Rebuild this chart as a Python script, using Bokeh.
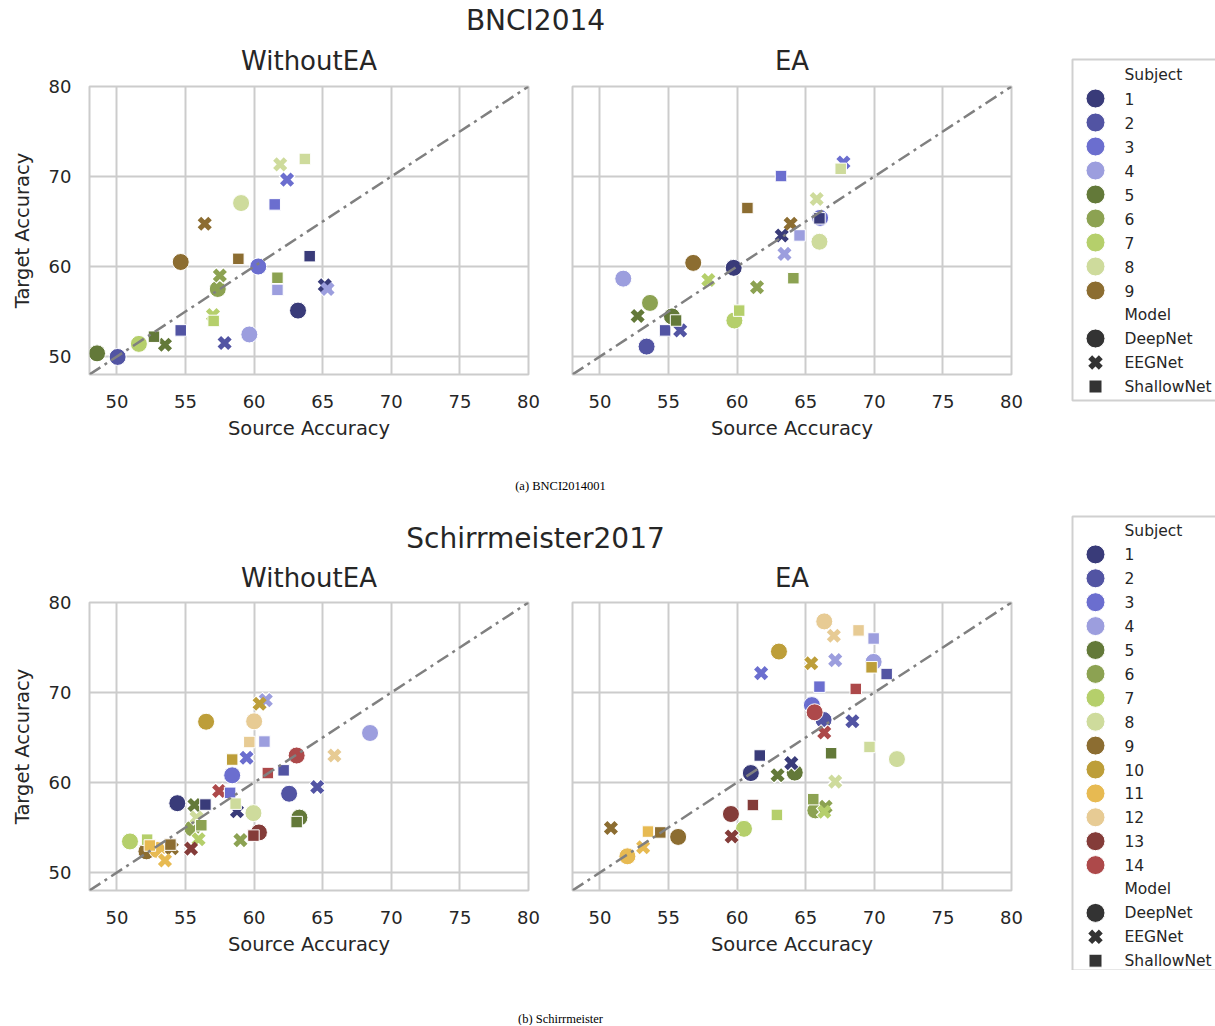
from bokeh.plotting import figure
from bokeh.layouts import row, column
from bokeh.models import ColumnDataSource, FixedTicker, Range1d, Slope
from bokeh.embed import file_html
from bokeh.resources import INLINE
from bokeh.core.properties import value

# ---------------- data ----------------
SUBJECT_COLORS = ["#393b79", "#5254a3", "#6b6ecf", "#9c9ede", "#637939", "#8ca252", "#b5cf6b",
                  "#cedb9c", "#8c6d31", "#bd9e39", "#e7ba52", "#e7cb94", "#843c39", "#ad494a"]
MODELS = ["DeepNet", "EEGNet", "ShallowNet"]
X_TICKS = [50, 55, 60, 65, 70, 75, 80]
Y_TICKS = [50, 60, 70, 80]
AXIS_LO, AXIS_HI = 48, 80

# BNCI2014 - WithoutEA (subjects 1..9)
bnci_wo_deep_src = [63.2, 50.05, 60.3, 59.65, 48.55, 57.35, 51.6, 59.05, 54.65]
bnci_wo_deep_tgt = [55.1, 49.95, 60.0, 52.45, 50.35, 57.5, 51.4, 67.05, 60.5]
bnci_wo_eeg_src = [65.15, 57.85, 62.4, 65.35, 53.5, 57.5, 57.0, 61.9, 56.4]
bnci_wo_eeg_tgt = [57.9, 51.5, 69.65, 57.5, 51.3, 59.0, 54.6, 71.35, 64.75]
bnci_wo_shal_src = [64.05, 54.65, 61.5, 61.7, 52.7, 61.7, 57.05, 63.7, 58.85]
bnci_wo_shal_tgt = [61.15, 52.9, 66.9, 57.4, 52.2, 58.75, 53.95, 71.95, 60.85]

# BNCI2014 - EA
bnci_ea_deep_src = [59.75, 53.4, 66.05, 51.7, 55.25, 53.65, 59.8, 66.0, 56.8]
bnci_ea_deep_tgt = [59.85, 51.1, 65.4, 58.65, 54.45, 55.95, 54.0, 62.75, 60.4]
bnci_ea_eeg_src = [63.25, 55.85, 67.75, 63.45, 52.75, 61.45, 57.9, 65.8, 63.9]
bnci_ea_eeg_tgt = [63.45, 52.9, 71.55, 61.4, 54.5, 57.7, 58.5, 67.5, 64.75]
bnci_ea_shal_src = [66.0, 54.75, 63.2, 64.55, 55.55, 64.1, 60.15, 67.55, 60.75]
bnci_ea_shal_tgt = [65.35, 52.9, 70.05, 63.45, 54.0, 58.7, 55.1, 70.85, 66.5]

# Schirrmeister2017 - WithoutEA (subjects 1..14)
sch_wo_deep_src = [54.4, 62.55, 58.4, 68.45, 63.3, 55.5, 50.95, 59.95, 52.15, 56.5, 52.95, 60.0, 60.35, 63.1]
sch_wo_deep_tgt = [57.7, 58.75, 60.8, 65.5, 56.1, 54.9, 53.45, 56.6, 52.35, 66.75, 52.5, 66.8, 54.45, 63.0]
sch_wo_eeg_src = [58.75, 64.6, 59.45, 60.85, 55.65, 59.0, 55.95, 55.8, 54.0, 60.4, 53.5, 65.85, 55.4, 57.45]
sch_wo_eeg_tgt = [56.8, 59.5, 62.75, 69.15, 57.5, 53.6, 53.7, 56.1, 52.7, 68.75, 51.35, 63.0, 52.65, 59.05]
sch_wo_shal_src = [56.45, 62.15, 58.25, 60.75, 63.1, 56.15, 52.2, 58.65, 53.9, 58.4, 52.4, 59.65, 59.95, 61.0]
sch_wo_shal_tgt = [57.55, 61.35, 58.85, 64.55, 55.6, 55.25, 53.65, 57.65, 53.1, 62.55, 53.0, 64.5, 54.1, 61.05]

# Schirrmeister2017 - EA
sch_ea_deep_src = [61.0, 66.3, 65.45, 69.95, 64.2, 65.7, 60.5, 71.65, 55.7, 63.05, 52.0, 66.35, 59.55, 65.65]
sch_ea_deep_tgt = [61.05, 66.95, 68.6, 73.4, 61.1, 56.9, 54.85, 62.6, 53.95, 74.55, 51.8, 77.9, 56.5, 67.8]
sch_ea_eeg_src = [63.95, 68.4, 61.75, 67.15, 62.95, 66.45, 66.35, 67.15, 50.8, 65.4, 53.15, 67.05, 59.6, 66.35]
sch_ea_eeg_tgt = [62.15, 66.8, 72.15, 73.6, 60.8, 57.3, 56.75, 60.1, 54.95, 73.25, 52.8, 76.3, 54.0, 65.55]
sch_ea_shal_src = [61.65, 70.9, 66.0, 69.95, 66.85, 65.55, 62.9, 69.65, 54.4, 69.8, 53.5, 68.85, 61.15, 68.65]
sch_ea_shal_tgt = [63.0, 72.05, 70.65, 76.0, 63.25, 58.15, 56.4, 63.95, 54.45, 72.8, 54.55, 76.9, 57.5, 70.4]

# ---------------- style ----------------
FONT = "DejaVu Sans"
TXT = "#262626"
GRID = "#cccccc"
MODEL_COLOR = "#333333"
FRAME_W, FRAME_H = 439, 288
TICK_FS = "18px"
LABEL_FS = "19.5px"
TITLE_FS = "26px"
SUPTITLE_FS = "28px"
LEGEND_FS = "15.5px"


def draw_points(p, src, tgt, n, marker):
    cds = ColumnDataSource(dict(x=src, y=tgt, color=SUBJECT_COLORS[:n]))
    if marker == "circle":
        p.scatter("x", "y", source=cds, marker="circle", size=17, fill_color="color",
                  line_color="white", line_width=1)
    elif marker == "x":
        p.scatter("x", "y", source=cds, marker="x", size=16.5, line_color="white", line_width=7.5)
        p.scatter("x", "y", source=cds, marker="x", size=15, line_color="color", line_width=5)
    else:
        p.scatter("x", "y", source=cds, marker="square", size=11.5, fill_color="color",
                  line_color="white", line_width=1)


def make_panel(series, n, left, right, bottom, show_y):
    p = figure(frame_width=FRAME_W, frame_height=FRAME_H,
               x_range=Range1d(AXIS_LO, AXIS_HI), y_range=Range1d(AXIS_LO, AXIS_HI),
               min_border_left=left, min_border_right=right, min_border_top=10,
               min_border_bottom=bottom, toolbar_location=None, output_backend="svg",
               y_axis_location="left" if show_y else None)
    p.background_fill_color = "white"
    p.border_fill_color = "white"
    p.outline_line_color = GRID
    p.outline_line_width = 2
    p.xgrid.ticker = FixedTicker(ticks=X_TICKS)
    p.ygrid.ticker = FixedTicker(ticks=Y_TICKS)
    for g in (p.xgrid, p.ygrid):
        g.grid_line_color = GRID
        g.grid_line_width = 2
    axes = [p.xaxis[0]] + ([p.yaxis[0]] if show_y else [])
    for ax in axes:
        ax.major_label_text_font = FONT
        ax.major_label_text_font_size = TICK_FS
        ax.major_label_text_color = TXT
        ax.axis_label_text_font = FONT
        ax.axis_label_text_font_size = LABEL_FS
        ax.axis_label_text_font_style = "normal"
        ax.axis_label_text_color = TXT
        ax.major_tick_line_color = None
        ax.minor_tick_line_color = None
        ax.major_tick_out = 0
        ax.major_tick_in = 0
        ax.minor_tick_out = 0
        ax.minor_tick_in = 0
        ax.axis_line_color = None
    p.xaxis.ticker = FixedTicker(ticks=X_TICKS)
    p.xaxis.axis_label = "Source Accuracy"
    p.xaxis.major_label_standoff = 20
    p.xaxis.axis_label_standoff = 6
    if show_y:
        p.yaxis.ticker = FixedTicker(ticks=Y_TICKS)
        p.yaxis.axis_label = "Target Accuracy"
        p.yaxis.major_label_standoff = 18
        p.yaxis.axis_label_standoff = 12
    for (src, tgt), marker in zip(series, ["circle", "x", "square"]):
        draw_points(p, src, tgt, n, marker)
    p.add_layout(Slope(gradient=1, y_intercept=0, line_color="#808080", line_width=2.5,
                       line_dash="13 5 3 5"))
    return p


def text_fig(w, h):
    f = figure(width=w, height=h, x_range=Range1d(0, w), y_range=Range1d(h, 0),
               x_axis_location=None, y_axis_location=None, toolbar_location=None,
               output_backend="svg", min_border=0)
    f.grid.visible = False
    f.outline_line_color = None
    f.background_fill_color = "white"
    f.border_fill_color = "white"
    return f


def add_text(f, x, y, s, size, font=FONT, color=TXT, align="center"):
    f.text(x=[x], y=[y], text=[s], text_font=value(font), text_font_size=value(size),
           text_color=color, text_align=align, text_baseline="middle")


LEFT1, RIGHT1, LEFT2, RIGHT2 = 89, 22, 22, 20
W1 = LEFT1 + FRAME_W + RIGHT1
W2 = LEFT2 + FRAME_W + RIGHT2
C1 = LEFT1 + FRAME_W / 2
C2 = W1 + LEFT2 + FRAME_W / 2
LEG_W = 1215 - W1 - W2


def make_legend(h, n, box_top, box_bot, first_y, step):
    f = text_fig(LEG_W, h)
    f.quad(left=[41], right=[LEG_W + 20], top=[box_top], bottom=[box_bot],
           fill_color="white", line_color="#d0d0d0", line_width=2)
    mx, tx = 64, 93
    labels = ["Subject"] + [str(i + 1) for i in range(n)] + ["Model"] + MODELS
    ys = [first_y + step * k for k in range(len(labels))]
    for lab, y in zip(labels, ys):
        add_text(f, tx, y, lab, LEGEND_FS, align="left")
    sub_y = ys[1:n + 1]
    f.scatter(x=[mx] * n, y=sub_y, marker="circle", size=19, fill_color=SUBJECT_COLORS[:n],
              line_color="white", line_width=1)
    my = ys[n + 2:]
    f.scatter(x=[mx], y=[my[0]], marker="circle", size=19, fill_color=MODEL_COLOR,
              line_color="white", line_width=1)
    f.scatter(x=[mx], y=[my[1]], marker="x", size=15, line_color=MODEL_COLOR, line_width=5.5)
    f.scatter(x=[mx], y=[my[2]], marker="square", size=13, fill_color=MODEL_COLOR,
              line_color="white", line_width=1)
    return f


def make_block(title, series_wo, series_ea, n, top_h, sup_y, title_y, bottom, leg_box, leg_first, leg_step):
    top = text_fig(W1 + W2, top_h)
    add_text(top, 535, sup_y, title, SUPTITLE_FS)
    add_text(top, C1, title_y, "WithoutEA", TITLE_FS)
    add_text(top, C2, title_y, "EA", TITLE_FS)
    p1 = make_panel(series_wo, n, LEFT1, RIGHT1, bottom, True)
    p2 = make_panel(series_ea, n, LEFT2, RIGHT2, bottom, False)
    h = top_h + 10 + FRAME_H + bottom
    leg = make_legend(h, n, leg_box[0], leg_box[1], leg_first, leg_step)
    return row(column(top, row(p1, p2)), leg)


block_a = make_block(
    "BNCI2014",
    [(bnci_wo_deep_src, bnci_wo_deep_tgt), (bnci_wo_eeg_src, bnci_wo_eeg_tgt), (bnci_wo_shal_src, bnci_wo_shal_tgt)],
    [(bnci_ea_deep_src, bnci_ea_deep_tgt), (bnci_ea_eeg_src, bnci_ea_eeg_tgt), (bnci_ea_shal_src, bnci_ea_shal_tgt)],
    9, 76, 20, 60, 72, (59, 400), 74, 24)

block_b = make_block(
    "Schirrmeister2017",
    [(sch_wo_deep_src, sch_wo_deep_tgt), (sch_wo_eeg_src, sch_wo_eeg_tgt), (sch_wo_shal_src, sch_wo_shal_tgt)],
    [(sch_ea_deep_src, sch_ea_deep_tgt), (sch_ea_eeg_src, sch_ea_eeg_tgt), (sch_ea_shal_src, sch_ea_shal_tgt)],
    14, 87, 33, 72, 80, (11, 465), 25, 23.9)

TOTAL_W = W1 + W2 + LEG_W
cap_a = text_fig(TOTAL_W, 59)
add_text(cap_a, 560, 39, "(a) BNCI2014001", "12.5px", font="Liberation Serif", color="black")
cap_b = text_fig(TOTAL_W, 55)
add_text(cap_b, 560, 48, "(b) Schirrmeister", "12.5px", font="Liberation Serif", color="black")

layout = column(block_a, cap_a, block_b, cap_b)
open("out.html", "w").write(file_html(layout, INLINE))
